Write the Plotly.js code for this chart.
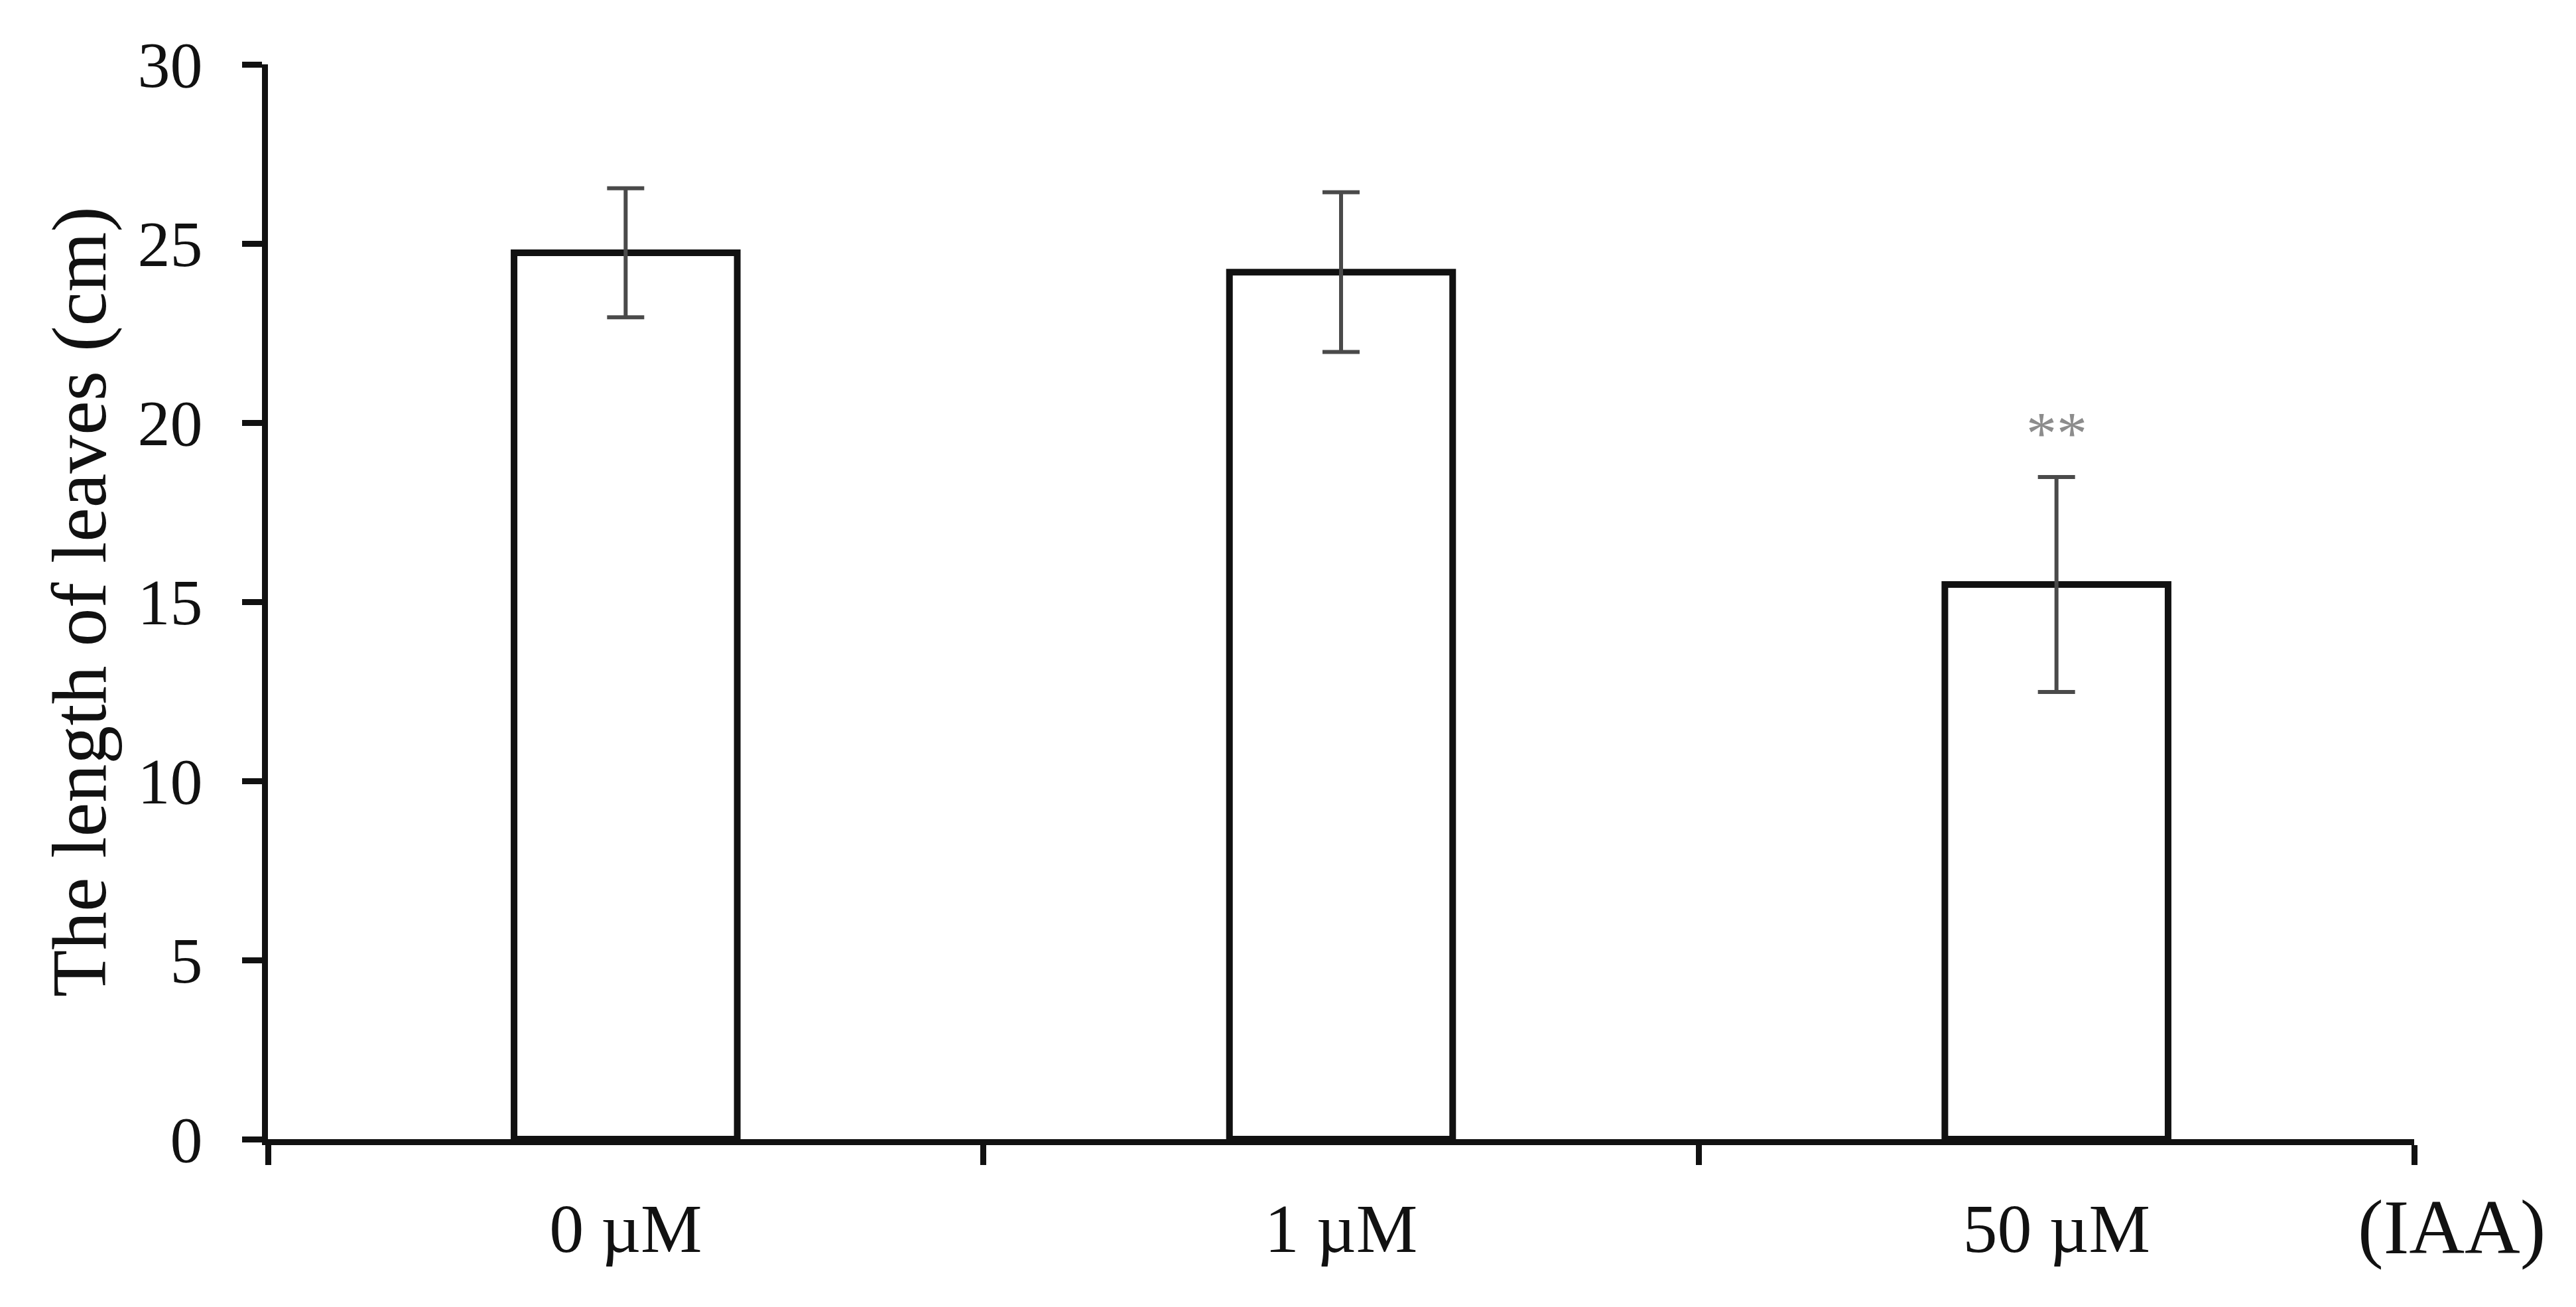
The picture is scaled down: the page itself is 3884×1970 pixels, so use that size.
<!DOCTYPE html>
<html>
<head>
<meta charset="utf-8">
<script src="https://cdn.plot.ly/plotly-3.0.1.min.js"></script>
<style>html,body{margin:0;padding:0;background:#fff;}#chart{width:3884px;height:1970px;}</style>
</head>
<body>
<div id="chart"></div>
<script>
const categories = ["0 µM", "1 µM", "50 µM"];
const lengths = [24.74, 24.2, 15.48];
const errors = [1.8, 2.23, 3.0];
const yTicks = [0, 5, 10, 15, 20, 25, 30];
const significance = ["", "", "**"];
const starY = [null, null, 19.7];
const treatmentLabel = "(IAA)";
const yTitle = "The length of leaves (cm)";

const font = "Liberation Serif, Times New Roman, serif";

const trace = {
  type: "bar",
  x: categories,
  y: lengths,
  width: 0.312,
  marker: {color: "#ffffff", line: {color: "#111111", width: 10}},
  error_y: {type: "data", array: errors, visible: true, color: "#4a4a4a", thickness: 6, width: 28},
  hoverinfo: "none"
};

const annotations = [];
categories.forEach((c, i) => {
  if (significance[i]) {
    annotations.push({x: c, y: starY[i], xref: "x", yref: "y", text: significance[i],
      showarrow: false, xanchor: "center", yanchor: "middle",
      font: {family: font, size: 92, color: "#8c8c8c"}});
  }
});
annotations.push({x: 1.0176, y: -0.082, xref: "paper", yref: "paper", text: treatmentLabel,
  showarrow: false, xanchor: "center", yanchor: "middle",
  font: {family: font, size: 116, color: "#111111"}});

const layout = {
  width: 3884, height: 1970,
  margin: {l: 404, r: 244, t: 97, b: 253, pad: 0},
  paper_bgcolor: "#ffffff", plot_bgcolor: "#ffffff",
  showlegend: false,
  font: {family: font, color: "#111111"},
  xaxis: {
    type: "category", range: [-0.5, 2.5],
    showline: true, linecolor: "#111111", linewidth: 9,
    ticks: "outside", tickson: "boundaries", ticklen: 30, tickwidth: 9, tickcolor: "#111111",
    showgrid: false, zeroline: false,
    tickfont: {family: font, size: 104, color: "#111111"},
    ticklabelstandoff: 36
  },
  yaxis: {
    range: [0, 30], tickvals: yTicks, ticktext: yTicks.map(String),
    showline: true, linecolor: "#111111", linewidth: 9,
    ticks: "outside", ticklen: 30, tickwidth: 9, tickcolor: "#111111",
    showgrid: false, zeroline: false,
    tickfont: {family: font, size: 98, color: "#111111"},
    ticklabelstandoff: 40,
    title: {text: yTitle, font: {family: font, size: 116, color: "#111111"}, standoff: 12}
  },
  annotations: annotations
};

Plotly.newPlot("chart", [trace], layout, {staticPlot: true, displayModeBar: false});
</script>
</body>
</html>
